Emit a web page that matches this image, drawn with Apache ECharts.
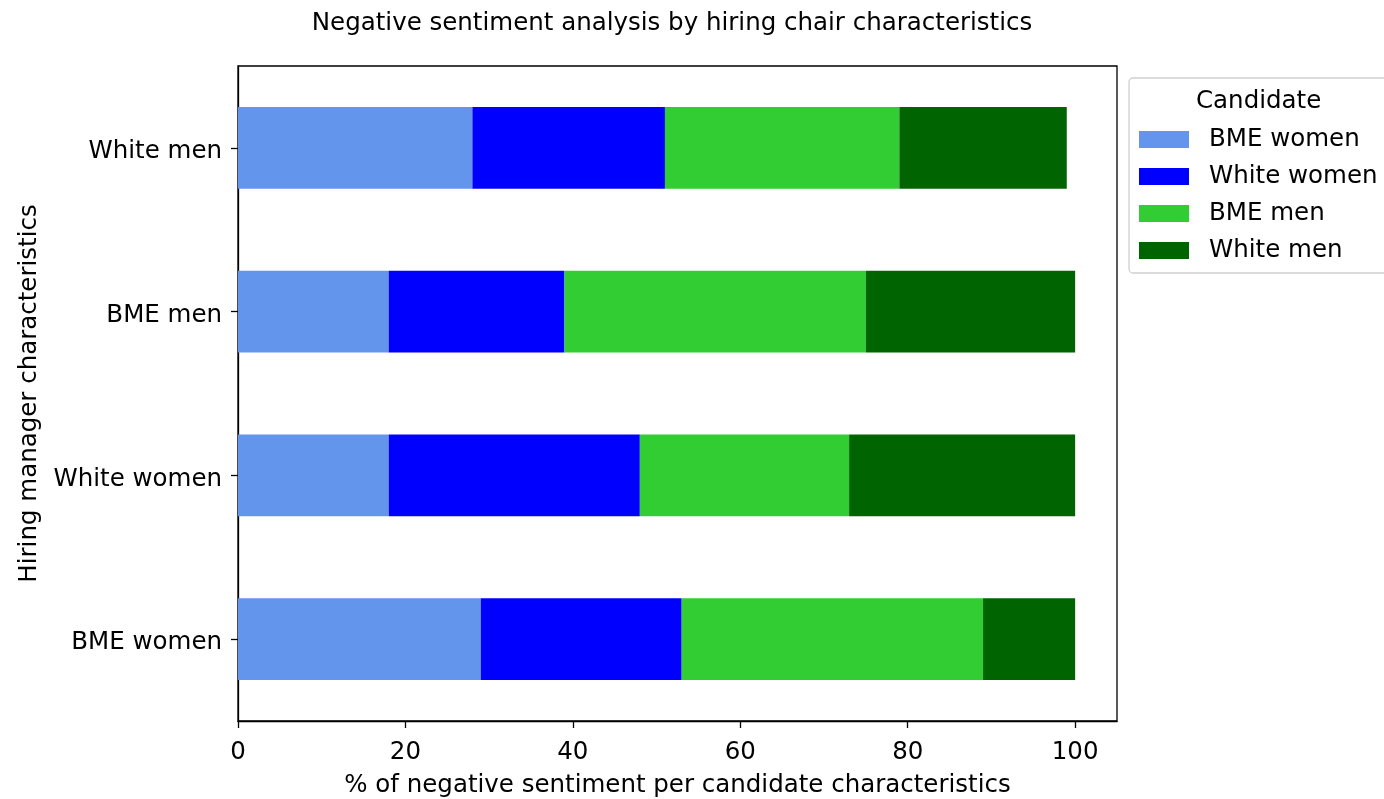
<!DOCTYPE html>
<html>
<head>
<meta charset="utf-8">
<script src="https://cdn.jsdelivr.net/npm/echarts@6/dist/echarts.min.js"></script>
<style>html,body{margin:0;padding:0;background:#fff}#c{width:1384px;height:799px}</style>
</head>
<body>
<div id="c"></div>
<script>
const categories = ['BME women', 'White women', 'BME men', 'White men'];
const seriesNames = ['BME women', 'White women', 'BME men', 'White men'];
const bmeWomen = [29, 18, 18, 28];
const whiteWomen = [24, 30, 21, 23];
const bmeMen = [36, 25, 36, 28];
const whiteMen = [11, 27, 25, 20];
const xTicks = [0, 20, 40, 60, 80, 100];
const colors = ['#6495ED', '#0000FF', '#32CD32', '#006400'];
const values = [bmeWomen, whiteWomen, bmeMen, whiteMen];

const font = 'DejaVu Sans';
const fs = 24.5;
const chart = echarts.init(document.getElementById('c'));
chart.setOption({
  animation: false,
  textStyle: {fontFamily: font},
  title: {
    text: 'Negative sentiment analysis by hiring chair characteristics',
    left: 667, top: 6, textAlign: 'center',
    textStyle: {fontFamily: font, fontWeight: 'normal', fontSize: fs, color: '#000'}
  },
  grid: {left: 238, right: 267, top: 66, bottom: 78, outerBoundsMode: 'none', containLabel: false,
    show: true, borderColor: '#000', borderWidth: 1.3, backgroundColor: 'transparent'},
  xAxis: {
    type: 'value', min: 0, max: 105,
    name: '% of negative sentiment per candidate characteristics',
    nameLocation: 'middle', nameGap: 52,
    nameTextStyle: {fontFamily: font, fontSize: fs, color: '#000'},
    axisLine: {show: true, lineStyle: {color: '#000', width: 1.3}},
    axisTick: {show: true, length: 7, lineStyle: {color: '#000', width: 1.3}, customValues: xTicks},
    axisLabel: {fontFamily: font, fontSize: fs, color: '#000', margin: 19, customValues: xTicks},
    splitLine: {show: false}
  },
  yAxis: {
    type: 'category', data: categories,
    name: 'Hiring manager characteristics',
    nameLocation: 'middle', nameGap: 192, nameRotate: 90,
    nameTextStyle: {fontFamily: font, fontSize: fs, color: '#000'},
    axisLine: {show: true, lineStyle: {color: '#000', width: 1.3}},
    axisTick: {show: true, length: 7, alignWithLabel: true, lineStyle: {color: '#000', width: 1.3}},
    axisLabel: {fontFamily: font, fontSize: fs, color: '#000', margin: 16, verticalAlign: 'top', lineHeight: 8},
    splitLine: {show: false}
  },
  legend: {
    data: seriesNames,
    orient: 'vertical', left: 1129, top: 78,
    itemWidth: 50, itemHeight: 17, itemGap: 12,
    padding: [49, 30, 10, 10],
    borderColor: '#d0d0d0', borderWidth: 1.3, borderRadius: 4,
    backgroundColor: '#fff',
    icon: 'rect',
    textStyle: {fontFamily: font, fontSize: fs, color: '#000', padding: [0, 0, 0, 15]},
    selectedMode: false
  },
  graphic: [{
    type: 'text', left: 1196, top: 89, z: 100,
    style: {text: 'Candidate', fontSize: fs, fontFamily: font, fill: '#000'}
  }],
  series: seriesNames.map((n, i) => ({
    name: n, type: 'bar', stack: 'total', barWidth: '50%',
    data: values[i],
    itemStyle: {color: colors[i]}
  }))
});
</script>
</body>
</html>
